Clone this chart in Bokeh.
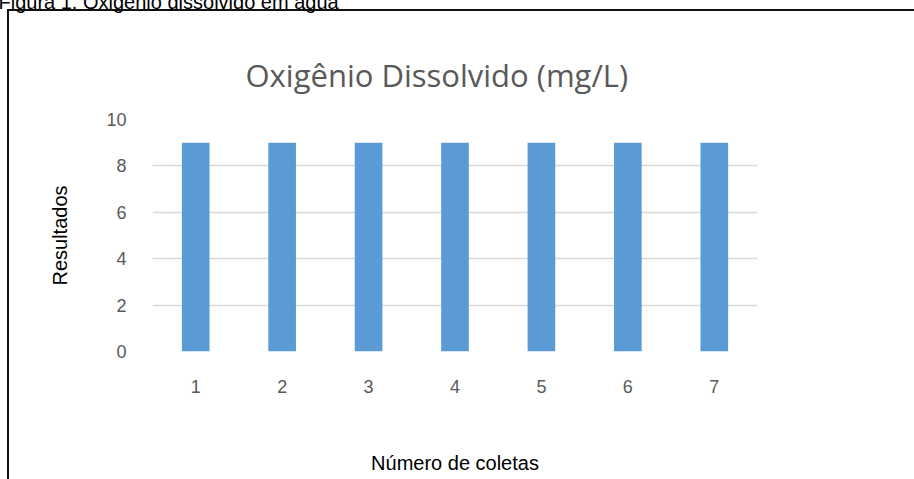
from bokeh.plotting import figure
from bokeh.models import FactorRange, Range1d, FixedTicker, InlineStyleSheet, Title
from bokeh.embed import file_html
from bokeh.resources import INLINE

categories = ["1", "2", "3", "4", "5", "6", "7"]
values = [9, 9, 9, 9, 9, 9, 9]
y_ticks = [0, 2, 4, 6, 8, 10]

W, H = 914, 479
FL, FR, FT, FB = 152, 757, 118, 351  # frame edges in canvas pixels

p = figure(width=W, height=H, output_backend="svg", toolbar_location=None,
           x_range=FactorRange(*categories, range_padding=0),
           y_range=Range1d(0, 10),
           min_border_left=FL, min_border_right=W - FR,
           min_border_top=0, min_border_bottom=H - FB)
p.outline_line_color = None
p.background_fill_color = "white"
p.border_fill_color = "white"

p.vbar(x=categories, top=values, width=0.32, color="#5b9bd5", line_color=None)

p.xgrid.grid_line_color = None
p.ygrid.grid_line_color = "#d9d9d9"
p.ygrid.grid_line_width = 1.5

for ax in (p.xaxis[0], p.yaxis[0]):
    ax.axis_line_color = None
    ax.major_tick_line_color = None
    ax.minor_tick_line_color = None
    ax.major_label_text_color = "#595959"
    ax.major_label_text_font = "Liberation Sans"
    ax.major_label_text_font_size = "18px"
    ax.axis_label_text_font = "Liberation Sans"
    ax.axis_label_text_font_size = "20px"
    ax.axis_label_text_font_style = "normal"
    ax.axis_label_text_color = "black"
p.yaxis[0].ticker = FixedTicker(ticks=y_ticks)
p.yaxis[0].major_label_standoff = 20
p.xaxis[0].major_label_standoff = 22
p.yaxis[0].axis_label = "Resultados"
p.yaxis[0].axis_label_standoff = 32
p.xaxis[0].axis_label = "Número de coletas"
p.xaxis[0].axis_label_standoff = 56

# Caption (outermost title, partly cut at top in the reference)
p.title.text = "Figura 1. Oxigênio dissolvido em água"
p.title.align = "left"
p.title.offset = -154
p.title.text_font = "Liberation Sans"
p.title.text_font_size = "20px"
p.title.text_font_style = "normal"
p.title.text_color = "black"
p.title.standoff = -23

# Chart title (next to the plot area)
p.add_layout(Title(text="Oxigênio Dissolvido (mg/L)", align="left", offset=93,
                   text_font="Open Sans", text_font_size="31px", text_font_style="normal",
                   text_color="#595959", standoff=47),
             "above")
# Blank spacer between caption and chart title
p.add_layout(Title(text=" ", text_font="Liberation Sans", text_font_size="20px",
                   standoff=3), "above")

# Frame border drawn with CSS around the chart area
p.stylesheets = [InlineStyleSheet(css="""
:host { position: relative; overflow: hidden; }
:host::after {
  content: ""; position: absolute; left: 7px; top: 9px;
  width: 940px; height: 500px;
  border: 2.5px solid #111111; pointer-events: none; box-sizing: border-box;
}
""")]

open("out.html", "w").write(file_html(p, INLINE))
